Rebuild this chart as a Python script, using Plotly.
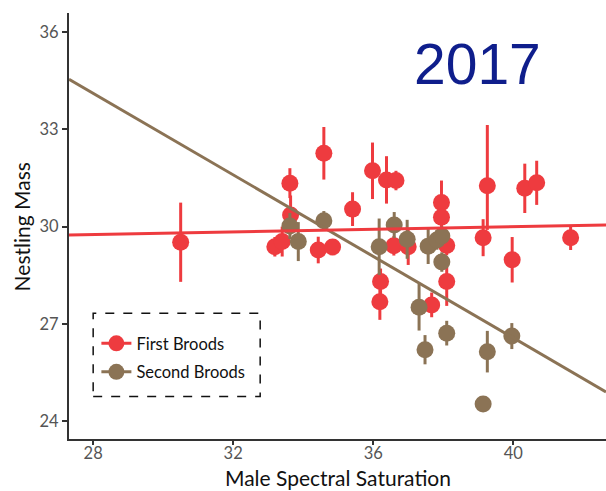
import plotly.graph_objects as go

# ---------------- data ----------------
first_x = [30.50, 33.19, 33.40, 33.62, 33.64, 34.43, 34.59, 34.84, 35.41, 35.98,
           36.21, 36.19, 36.38, 36.65, 36.59, 37.00, 37.67, 37.95, 37.95, 38.10,
           38.10, 39.14, 39.26, 39.97, 40.33, 40.67, 41.64]
first_y = [29.52, 29.38, 29.54, 31.34, 30.36, 29.28, 32.26, 29.37, 30.54, 31.72,
           28.31, 27.69, 31.44, 31.42, 29.41, 29.38, 27.59, 30.74, 30.29, 29.42,
           28.31, 29.66, 31.26, 28.98, 31.18, 31.35, 29.66]
first_err_up = [1.22, 0.30, 0.46, 0.46, 0.60, 0.41, 0.81, 0.20, 0.52, 0.87,
                0.40, 0.56, 0.73, 0.30, 0.30, 0.56, 0.38, 0.68, 0.30, 0.30,
                0.75, 0.57, 1.87, 0.70, 0.76, 0.68, 0.38]
first_err_down = [1.22, 0.30, 0.46, 0.46, 0.60, 0.41, 0.81, 0.20, 0.52, 0.87,
                  0.40, 0.56, 0.73, 0.30, 0.30, 0.56, 0.38, 0.68, 0.30, 0.30,
                  0.75, 0.57, 1.36, 0.70, 0.76, 0.68, 0.38]

second_x = [33.62, 33.86, 34.59, 36.17, 36.60, 36.97, 37.57, 37.82, 37.96, 37.96,
            37.31, 37.48, 38.10, 39.26, 39.14, 39.96]
second_y = [30.02, 29.54, 30.18, 29.38, 30.05, 29.61, 29.40, 29.59, 29.71, 28.91,
            27.52, 26.21, 26.72, 26.15, 24.54, 26.63]
second_err = [0.40, 0.60, 0.30, 0.87, 0.40, 0.60, 0.55, 0.30, 0.30, 0.30,
              0.72, 0.45, 0.38, 0.64, 0.00, 0.40]

fit_x = [27.31, 42.65]
first_fit_y = [29.74, 30.05]
second_fit_y = [34.54, 24.91]

series_names = ["First Broods", "Second Broods"]
x_ticks = [28, 32, 36, 40]
y_ticks = [24, 27, 30, 33, 36]
x_range = [27.31, 42.65]
y_range = [23.46, 36.58]

RED = "#EE3B3F"
BROWN = "#8B7355"
FONT = "Lato"

fig = go.Figure()

# points with error bars
fig.add_trace(go.Scatter(
    x=first_x, y=first_y, mode="markers", showlegend=False,
    marker=dict(color=RED, size=17, line=dict(width=0)),
    error_y=dict(type="data", symmetric=False, array=first_err_up,
                 arrayminus=first_err_down, color=RED, thickness=3, width=0),
))
fig.add_trace(go.Scatter(
    x=second_x, y=second_y, mode="markers", showlegend=False,
    marker=dict(color=BROWN, size=17, line=dict(width=0)),
    error_y=dict(type="data", array=second_err, color=BROWN, thickness=3, width=0),
))

# fit lines
fig.add_trace(go.Scatter(x=fit_x, y=second_fit_y, mode="lines", showlegend=False,
                         line=dict(color=BROWN, width=3)))
fig.add_trace(go.Scatter(x=fit_x, y=first_fit_y, mode="lines", showlegend=False,
                         line=dict(color=RED, width=3)))

# legend keys
for name, col in zip(series_names, [RED, BROWN]):
    fig.add_trace(go.Scatter(x=[None], y=[None], mode="lines+markers", name=name,
                             legendgroup=name,
                             marker=dict(color=col, size=16),
                             line=dict(color=col, width=3)))

fig.update_layout(
    width=606, height=491,
    margin=dict(l=69, r=0, t=13, b=52),
    plot_bgcolor="white", paper_bgcolor="white",
    font=dict(family=FONT, color="#111"),
    legend=dict(x=0.051, y=0.265, xanchor="left", yanchor="top",
                bgcolor="rgba(0,0,0,0)", borderwidth=0,
                font=dict(family=FONT, size=16.5, color="#111"),
                itemsizing="trace", traceorder="grouped", tracegroupgap=4),
    shapes=[dict(type="rect", xref="paper", yref="paper",
                 x0=0.045, x1=0.356, y0=0.0999, y1=0.295,
                 line=dict(color="#111", width=1.5, dash="dash"))],
    annotations=[
        dict(text="2017", xref="paper", yref="paper", x=0.761, y=0.88,
             xanchor="center", yanchor="middle", showarrow=False,
             font=dict(family="Liberation Sans", size=57, color="#0F1E8C")),
        dict(text="Male Spectral Saturation", xref="paper", yref="paper",
             x=0.501, y=-0.091, xanchor="center", yanchor="middle", showarrow=False,
             font=dict(family=FONT, size=21, color="#111")),
        dict(text="Nestling Mass", xref="paper", yref="paper", textangle=-90,
             x=-0.0894, y=0.499, xanchor="center", yanchor="middle", showarrow=False,
             font=dict(family=FONT, size=21, color="#111")),
    ],
)

fig.update_xaxes(
    range=x_range, tickvals=x_ticks, ticktext=[str(v) for v in x_ticks],
    showgrid=False, zeroline=False, showline=True, linecolor="#333", linewidth=2,
    ticks="outside", ticklen=4, tickwidth=1.5, tickcolor="#333",
    ticklabelstandoff=-6,
    tickfont=dict(family=FONT, size=16.5, color="#555"),
)
fig.update_yaxes(
    range=y_range, tickvals=y_ticks, ticktext=[str(v) for v in y_ticks],
    showgrid=False, zeroline=False, showline=True, linecolor="#333", linewidth=2,
    ticks="outside", ticklen=5, tickwidth=1.5, tickcolor="#333",
    tickfont=dict(family=FONT, size=16.5, color="#555"),
)

fig.write_html("out.html")
